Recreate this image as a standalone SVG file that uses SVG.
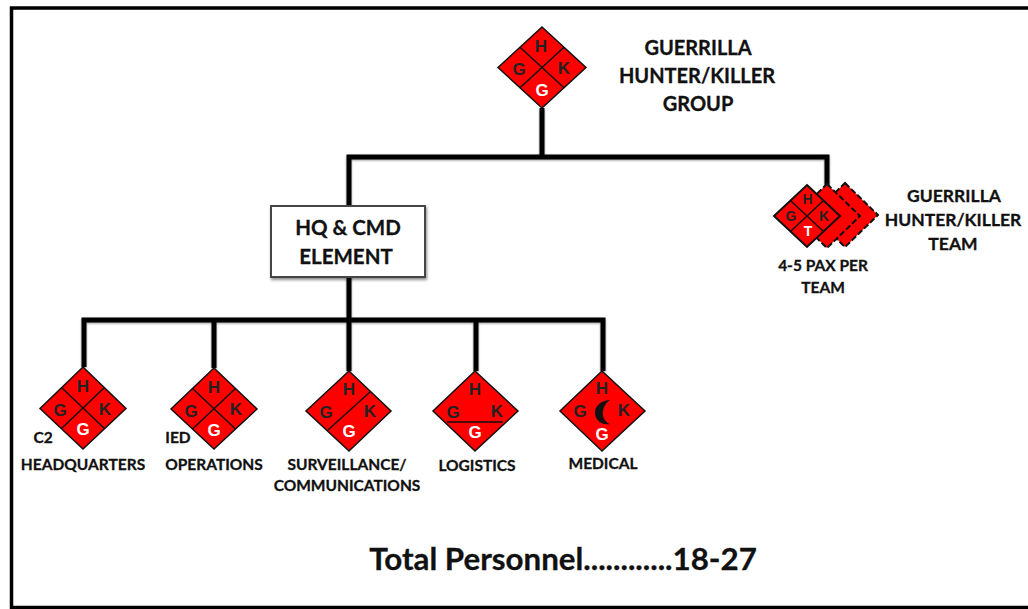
<svg xmlns="http://www.w3.org/2000/svg" width="1028" height="609" viewBox="0 0 1028 609">
<defs>
<filter id="sh" x="-20%" y="-20%" width="140%" height="140%"><feDropShadow dx="1" dy="2" stdDeviation="1.5" flood-color="#000" flood-opacity="0.45"/></filter>
<filter id="ls" x="-5%" y="-20%" width="110%" height="150%"><feDropShadow dx="0" dy="1" stdDeviation="1" flood-color="#000" flood-opacity="0.4"/></filter>
</defs>
<style>
.lab{font-family:"Lato","Noto Sans",sans-serif;font-weight:700;fill:#111;stroke:#111;stroke-width:.3;text-anchor:middle}
.big{font-size:20px}
.hq{font-size:20.500px}
.mid{font-size:17.500px}
.sm{font-size:15.500px}
.d{font-family:"Liberation Sans",Arial,sans-serif;font-weight:700;font-size:17px;text-anchor:middle;fill:#222}
.t{font-size:14px}
.w{fill:#fff}
.dia{fill:#f00;stroke:#111;stroke-width:1.5}
.div{stroke:#111;stroke-width:1.5;fill:none}
.dash{fill:#f00;stroke:#111;stroke-width:2;stroke-dasharray:6 2.500}
.conn{stroke:#000;stroke-width:5;fill:none}
</style>
<rect width="1028" height="609" fill="#fff"/>
<path d="M1028 8H11.500V607.500H1028" fill="none" stroke="#000" stroke-width="3.500"/>
<g id="connectors" filter="url(#ls)">
<path class="conn" d="M542 108V157M349 206V157H827V186M349 277V320M84 367V320H603V371M214 320V368M349 320V371M476 320V371"/>
</g>
<g id="group-hkg">
<polygon class="dia" points="542,27 586,67.500 542,108 498,67.500"/>
<path class="div" d="M520 47.250L564 87.750M564 47.250L520 87.750"/>
<text class="d" x="541" y="52">H</text><text class="d" x="519" y="75">G</text><text class="d" x="564" y="74">K</text><text class="d w" x="542" y="96">G</text>
<text class="lab big" x="698" y="55">GUERRILLA</text>
<text class="lab big" x="697" y="83">HUNTER/KILLER</text>
<text class="lab big" x="698" y="111">GROUP</text>
</g>
<g id="team-hkt">
<polygon class="dash" points="845,183 878,215 845,247 812,215"/>
<polygon class="dash" points="827,184 860,216 827,248 794,216"/>
<polygon class="dia" style="stroke-width:2" points="807,185 840,216 807,247 774,216"/>
<path class="div" d="M790.500 200.500L823.500 231.500M823.500 200.500L790.500 231.500"/>
<text class="d t" x="807.500" y="204">H</text><text class="d t" x="791" y="221">G</text><text class="d t" x="824" y="221">K</text><text class="d w t" x="808" y="236">T</text>
<text class="lab mid" x="954" y="202">GUERRILLA</text>
<text class="lab mid" x="953" y="226">HUNTER/KILLER</text>
<text class="lab mid" x="953" y="250">TEAM</text>
<text class="lab sm" x="823" y="271">4-5 PAX PER</text>
<text class="lab sm" x="823" y="293">TEAM</text>
</g>
<g id="hq-cmd">
<rect x="271" y="206" width="154" height="71" fill="#fff" stroke="#444" stroke-width="2" filter="url(#sh)"/>
<text class="lab hq" x="348" y="235">HQ &amp; CMD</text>
<text class="lab hq" x="346" y="264">ELEMENT</text>
</g>
<g id="headquarters">
<polygon class="dia" points="83,367 126,408.500 83,449 40,408.500"/>
<path class="div" d="M61.500 387.500L104.500 428.500M104.500 387.500L61.500 428.500"/>
<text class="d" x="83" y="392">H</text><text class="d" x="60" y="416">G</text><text class="d" x="105" y="415">K</text><text class="d w" x="83" y="435">G</text>
<text class="lab sm" x="43" y="443">C2</text>
<text class="lab sm" x="83" y="470">HEADQUARTERS</text>
</g>
<g id="operations">
<polygon class="dia" points="214,368 257,409 214,449 171,409"/>
<path class="div" d="M192.500 388.500L235.500 429M235.500 388.500L192.500 429"/>
<text class="d" x="214" y="393">H</text><text class="d" x="191" y="417">G</text><text class="d" x="236" y="415">K</text><text class="d w" x="214" y="436">G</text>
<text class="lab sm" x="178" y="443">IED</text>
<text class="lab sm" x="214" y="470">OPERATIONS</text>
</g>
<g id="surveillance">
<polygon class="dia" points="349,371 391,411 349,451 306,411"/>
<path class="div" d="M370 392L328 430"/>
<text class="d" x="349" y="395">H</text><text class="d" x="326" y="418">G</text><text class="d" x="370" y="417">K</text><text class="d w" x="349" y="437">G</text>
<text class="lab sm" x="347" y="470">SURVEILLANCE/</text>
<text class="lab sm" x="347" y="491">COMMUNICATIONS</text>
</g>
<g id="logistics">
<polygon class="dia" points="475,371 518,411 475,451 433,411"/>
<path class="div" d="M447 422H503"/>
<text class="d" x="475" y="395">H</text><text class="d" x="453" y="418">G</text><text class="d" x="497" y="417">K</text><text class="d w" x="475" y="438">G</text>
<text class="lab sm" x="477" y="471">LOGISTICS</text>
</g>
<g id="medical">
<polygon class="dia" points="602,371 645,411 602,451 560,411"/>
<path d="M610 400C601 406 600 420 610 424C600 426 594 418 595 411C596 405 602 400 610 400Z" fill="#111"/>
<text class="d" x="602" y="394">H</text><text class="d" x="580" y="417">G</text><text class="d" x="624" y="416">K</text><text class="d w" x="602" y="440">G</text>
<text class="lab sm" x="603" y="469">MEDICAL</text>
</g>
<text class="lab" style="font-size:31.300px" x="563" y="570">Total Personnel............18-27</text>
</svg>
